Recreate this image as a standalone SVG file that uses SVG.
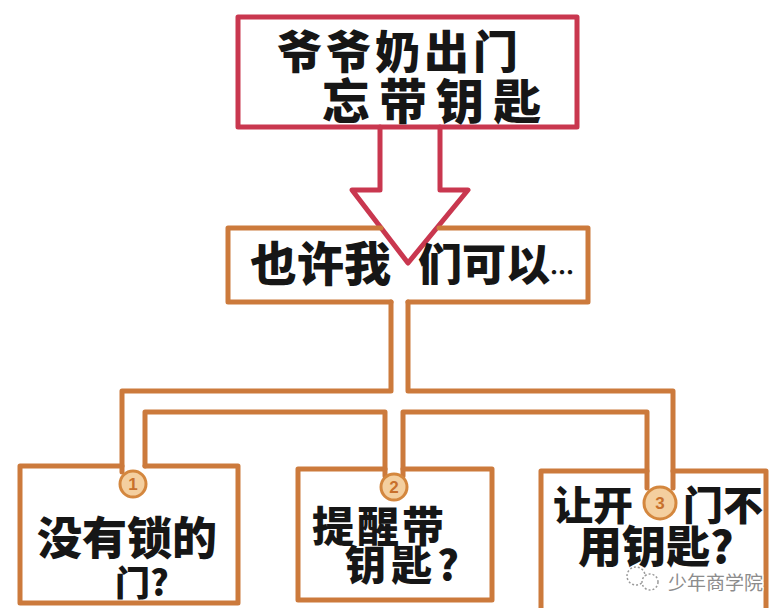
<svg xmlns="http://www.w3.org/2000/svg" width="771" height="608" viewBox="0 0 771 608">
<style>
.red{fill:none;stroke:#c9374f;stroke-width:5;stroke-linejoin:round;stroke-linecap:round}
.org{fill:none;stroke:#cc7a3c;stroke-width:5;stroke-linejoin:round;stroke-linecap:round}
.hand{font-family:"Noto Sans CJK SC","Noto Sans CJK JP",sans-serif;font-weight:900;fill:#161616}
.badge{fill:#f4cf9f;stroke:#d4873e;stroke-width:3}
.num{font-family:"Liberation Sans",Arial,sans-serif;font-weight:bold;font-size:17px;fill:#c8702c;text-anchor:middle}
.wm{font-family:"Noto Sans CJK SC",sans-serif;font-size:19px;fill:#8c8c8c;stroke:#ffffff;stroke-width:2.5;paint-order:stroke}
</style>
<rect width="771" height="608" fill="#ffffff"/>
<g id="connectors">
  <polygon class="red" fill="#ffffff" points="380,127 380,190 352,190 408,263 468,190 440,190 440,127"/>
  <path class="org" d="M391,302 V391 H122 V472"/>
  <path class="org" d="M408,302 V391 H673 V488"/>
  <path class="org" d="M145,466 V412 H385 V476"/>
  <path class="org" d="M403,476 V412 H647 V488"/>
</g>
<g id="node-top">
  <path class="red" d="M380,127 H238 V17 H577 V127 H440"/>
  <text class="hand" x="277" y="69" font-size="45" letter-spacing="4">爷爷奶出门</text>
  <text class="hand" x="322" y="119" font-size="48" letter-spacing="9">忘带钥匙</text>
</g>
<g id="node-middle">
  <path class="org" d="M381,228 H228 V302 H391 M408,302 H588 V228 H439"/>
  <text class="hand" x="250" y="281" font-size="47">也许我</text>
  <text class="hand" x="418" y="281" font-size="44">们可以<tspan font-size="24">…</tspan></text>
</g>
<g id="node-1">
  <path class="org" d="M122,466 H20 V603 H238 V466 H145"/>
  <circle class="badge" cx="133" cy="484" r="13"/>
  <text class="num" x="133" y="490">1</text>
  <text class="hand" x="37" y="555" font-size="45">没有锁的</text>
  <text class="hand" x="115" y="596" font-size="35">门?</text>
</g>
<g id="node-2">
  <path class="org" d="M385,469 H298 V600 H492 V469 H403"/>
  <circle class="badge" cx="394" cy="487" r="13"/>
  <text class="num" x="394" y="493">2</text>
  <text class="hand" x="312" y="542" font-size="42" letter-spacing="3">提醒带</text>
  <text class="hand" x="345" y="580" font-size="41" letter-spacing="5">钥匙?</text>
</g>
<g id="node-3">
  <path class="org" d="M647,471 H541 V615 M673,471 H766 V615"/>
  <circle class="badge" cx="660" cy="503" r="16"/>
  <text class="num" x="660" y="509">3</text>
  <text class="hand" x="553" y="520" font-size="40">让开</text>
  <text class="hand" x="683" y="520" font-size="40">门不</text>
  <text class="hand" x="578" y="563" font-size="44">用钥匙?</text>
</g>
<g id="watermark">
  <circle cx="636" cy="576" r="9" fill="none" stroke="#9a9a9a" stroke-width="1.5" stroke-dasharray="2 2"/>
  <circle cx="650" cy="582" r="8" fill="#ffffff" stroke="#9a9a9a" stroke-width="1.5" stroke-dasharray="2 2"/>
  <text class="wm" x="668" y="590">少年商学院</text>
</g>
</svg>
